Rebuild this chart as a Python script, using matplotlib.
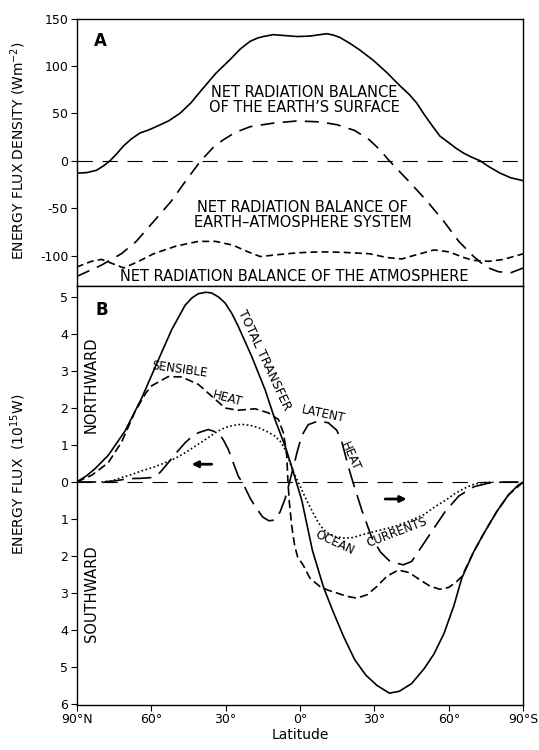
import matplotlib
matplotlib.use("Agg")
import matplotlib.pyplot as plt

plt.rcParams['font.family'] = ['DejaVu Sans']
plt.rcParams['axes.unicode_minus'] = False
plt.rcParams['lines.scale_dashes'] = False

# ---- panel A : net radiation balance (W m-2), latitude N positive ----
surf_lat = [90, 86, 82, 79, 76.6, 74, 71.2, 68, 64.5, 61, 57.8, 53, 48.4, 44, 39, 34,
            28.2, 24, 20.1, 17, 14.8, 10.8, 6, 1, -4, -8, -10.8, -13.5, -16.1, -20, -24,
            -29.5, -35, -40.3, -44, -47, -50, -53, -56.4, -60, -63, -66, -69, -72.6, -76,
            -80.6, -85, -90]
surf_val = [-13, -12.5, -10, -5, 0, 7, 15.5, 23, 29.3, 32.5, 36.2, 42, 50, 61, 76.7, 92,
            106.7, 118, 126, 129.5, 131, 133, 132, 131, 131.5, 133, 134, 132.5, 130, 124,
            117, 106, 93, 79, 70, 61, 49, 38, 26, 19, 13, 8, 4, 0, -6, -13, -18, -21]

system_lat = [90, 85, 80, 76, 72, 66, 59, 52, 46, 40, 35, 31, 26, 20, 10, 1, -8, -15,
              -22, -28, -32, -36, -44, -51, -58, -64, -70, -75, -80, -85, -90]
system_val = [-122, -116, -110, -104, -98, -85, -64, -43, -21, 0, 14, 22, 30, 36, 40, 42,
              41, 38, 32, 22, 12, 0, -22, -42, -64, -85, -101, -112, -117, -118, -113]

atmos_lat = [90, 84, 80, 75, 71, 65, 59, 50, 41, 34, 27, 21, 16, 9, 1, -8, -17, -28, -35,
             -41, -47, -54, -60, -66, -70, -76, -82, -90]
atmos_val = [-112, -106, -104, -109, -113, -106, -98, -90, -85, -85, -89, -96, -101, -99,
             -97, -96, -96.5, -98, -102, -103.5, -99, -94, -96, -102, -105, -106, -104, -98]

# ---- panel B : meridional energy flux (10^15 W), northward positive ----
total_lat = [90, 86, 82.6, 77.3, 70.5, 63.8, 57.1, 51.7, 46.3, 43.5, 41, 38, 35.6, 32.8,
             30.2, 27.5, 24.9, 19.5, 14.1, 10.1, 6.0, 4, 1.5, -0.7, -5, -9.5, -13, -17.5,
             -22, -26.5, -31, -36, -40, -45, -50, -54, -58, -62, -65.2, -69.9, -74, -79.3,
             -84, -88, -90]
total_val = [0, 0.17, 0.36, 0.72, 1.38, 2.27, 3.3, 4.12, 4.78, 4.98, 5.09, 5.13, 5.11,
             5.0, 4.84, 4.56, 4.21, 3.4, 2.5, 1.69, 0.97, 0.55, 0, -0.49, -1.85, -2.85,
             -3.45, -4.17, -4.8, -5.22, -5.5, -5.71, -5.66, -5.45, -5.05, -4.65, -4.1,
             -3.35, -2.6, -1.9, -1.4, -0.8, -0.35, -0.08, 0]

sens_lat = [90, 84, 77.3, 71.9, 66.5, 62, 59.8, 53.1, 47.7, 41, 35.6, 30.2, 24.9, 18.1,
            12.8, 8.7, 6.7, 5.4, 4.9, 4.3, 3.3, 2.2, 1.0, -1.3, -4, -8.1, -11.5, -14.8,
            -18.8, -22.9, -27, -30.9, -35, -39.6, -44, -48.4, -52.5, -56.4, -60, -63,
            -65.2, -69.9, -74, -79.3, -84, -90]
sens_val = [0, 0.18, 0.52, 1.08, 1.9, 2.42, 2.6, 2.85, 2.84, 2.64, 2.32, 2.0, 1.94, 1.98,
            1.87, 1.69, 1.33, 0.79, 0.07, -0.55, -1.21, -1.7, -2.02, -2.25, -2.6, -2.83,
            -2.93, -3.0, -3.09, -3.14, -3.05, -2.83, -2.55, -2.38, -2.45, -2.65, -2.82,
            -2.9, -2.85, -2.7, -2.56, -1.9, -1.4, -0.8, -0.35, 0]

latent_lat = [90, 79.3, 74.6, 69.2, 64, 59.8, 56.5, 53.1, 49.7, 46.3, 43.5, 41, 37, 32.9,
              30.9, 28.9, 26.9, 24.9, 22.9, 20, 17.5, 15, 12.5, 10.5, 8.1, 6, 4.2, 2.5, 1,
              -0.7, -3.3, -7.4, -11.4, -14.8, -16.8, -19.5, -21.5, -24.9, -28.9, -32.5,
              -36.3, -41.6, -45, -48, -53, -58.5, -64, -70, -76, -82, -90]
latent_val = [0, 0, 0.03, 0.09, 0.1, 0.12, 0.25, 0.52, 0.8, 1.06, 1.23, 1.33, 1.42, 1.33,
              1.14, 0.88, 0.52, 0.16, -0.05, -0.45, -0.72, -0.95, -1.05, -1.03, -0.82,
              -0.45, 0, 0.45, 0.85, 1.25, 1.55, 1.65, 1.6, 1.4, 1.1, 0.41, -0.04, -0.76,
              -1.5, -1.9, -2.15, -2.24, -2.15, -1.85, -1.35, -0.8, -0.38, -0.13, -0.03,
              0, 0]

ocean_lat = [80, 76, 73.2, 68, 63.8, 59, 54.4, 50, 46.3, 41.5, 37, 33.5, 30.2, 27, 23.5,
             20, 16.8, 13.5, 10.1, 8, 6.0, 4.2, 2.5, 0.7, -1.3, -3.3, -5.4, -7.4, -9.4,
             -11.4, -14.5, -18.1, -21.5, -24.9, -30, -35.6, -40, -45, -50, -54.4, -58.5,
             -62.5, -66, -69.2, -73, -78]
ocean_val = [0, 0.03, 0.09, 0.2, 0.3, 0.4, 0.52, 0.65, 0.79, 1.0, 1.2, 1.36, 1.47, 1.53,
             1.56, 1.53, 1.47, 1.37, 1.24, 1.1, 0.88, 0.55, 0.25, 0, -0.3, -0.58, -0.85,
             -1.1, -1.28, -1.39, -1.48, -1.52, -1.5, -1.43, -1.34, -1.25, -1.16, -1.03,
             -0.88, -0.67, -0.5, -0.31, -0.18, -0.08, -0.02, 0]

lat_ticks = [90, 60, 30, 0, -30, -60, -90]
lat_labels = ['90°N', '60°', '30°', '0°', '30°', '60°', '90°S']
a_ticks = [150, 100, 50, 0, -50, -100]
b_ticks = [5, 4, 3, 2, 1, 0, -1, -2, -3, -4, -5, -6]

fig = plt.figure(figsize=(5.39, 7.5), dpi=100)
axA = fig.add_axes([0.1423, 0.6187, 0.8286, 0.3566])
axB = fig.add_axes([0.1423, 0.06, 0.8286, 0.5587])

for ax in (axA, axB):
    ax.set_xlim(90, -90)
    ax.axhline(0, color='black', lw=0.8, dashes=(11, 7))
    ax.tick_params(direction='out', length=4, width=0.8, labelsize=9, pad=2)
    for s in ax.spines.values():
        s.set_linewidth(1.0)

# panel A
axA.plot(surf_lat, surf_val, color='black', lw=1.2)
axA.plot(system_lat, system_val, color='black', lw=1.2, dashes=(10, 6))
axA.plot(atmos_lat, atmos_val, color='black', lw=1.2, dashes=(5, 3))
axA.set_ylim(-132, 150)
axA.set_yticks(a_ticks)
axA.set_xticks([])
axA.text(80.6, 126, 'A', fontsize=12, fontweight='bold', ha='center', va='center')
axA.text(-1.6, 64, 'NET RADIATION BALANCE\nOF THE EARTH\u2019S SURFACE', fontsize=10.5,
         ha='center', va='center', linespacing=1.0)
axA.text(-1.0, -57, 'NET RADIATION BALANCE OF\nEARTH\u2013ATMOSPHERE SYSTEM', fontsize=10.5,
         ha='center', va='center', linespacing=1.0)
axA.text(2.4, -122.5, 'NET RADIATION BALANCE OF THE ATMOSPHERE', fontsize=10.5,
         ha='center', va='center')

# panel B
axB.plot(total_lat, total_val, color='black', lw=1.2)
axB.plot(sens_lat, sens_val, color='black', lw=1.2, dashes=(6, 3))
axB.plot(latent_lat, latent_val, color='black', lw=1.2, dashes=(14, 6))
axB.plot(ocean_lat, ocean_val, color='black', lw=1.2, dashes=(1.2, 1.8))
axB.set_ylim(-6.03, 5.3)
axB.set_yticks(b_ticks)
axB.set_yticklabels([str(abs(v)) for v in b_ticks])
axB.set_xticks(lat_ticks)
axB.set_xticklabels(lat_labels)
axB.set_xlabel('Latitude', fontsize=10, labelpad=1)

fig.text(0.033, 0.799, 'ENERGY FLUX DENSITY (Wm$^{-2}$)', fontsize=10, rotation=90,
         ha='center', va='center')
fig.text(0.033, 0.368, 'ENERGY FLUX  (10$^{15}$W)', fontsize=10, rotation=90,
         ha='center', va='center')

axB.text(80, 4.66, 'B', fontsize=12, fontweight='bold', ha='center', va='center')
axB.text(84, 2.64, 'NORTHWARD', fontsize=10.5, rotation=90, ha='center', va='center')
axB.text(84, -3.02, 'SOUTHWARD', fontsize=10.5, rotation=90, ha='center', va='center')
axB.text(14.5, 3.3, 'TOTAL TRANSFER', fontsize=9, rotation=-65, ha='center',
         va='center', rotation_mode='anchor')
axB.text(48.4, 3.05, 'SENSIBLE', fontsize=8.5, rotation=-8, ha='center', va='center',
         rotation_mode='anchor')
axB.text(29.1, 2.25, 'HEAT', fontsize=8.5, rotation=-15, ha='center', va='center',
         rotation_mode='anchor')
axB.text(-9.4, 1.84, 'LATENT', fontsize=8.5, rotation=-12, ha='center', va='center',
         rotation_mode='anchor')
axB.text(-20.2, 0.68, 'HEAT', fontsize=8.5, rotation=-66, ha='center', va='center',
         rotation_mode='anchor')
axB.text(-14.1, -1.65, 'OCEAN', fontsize=8.5, rotation=-25, ha='center', va='center',
         rotation_mode='anchor')
axB.text(-39, -1.36, 'CURRENTS', fontsize=8.5, rotation=21, ha='center', va='center',
         rotation_mode='anchor')

arrow = dict(arrowstyle='-|>', lw=2, color='black', mutation_scale=9, shrinkA=0, shrinkB=0)
axB.annotate('', xy=(43.7, 0.48), xytext=(35.6, 0.48), arrowprops=arrow)
axB.annotate('', xy=(-43, -0.46), xytext=(-34.3, -0.46), arrowprops=arrow)

fig.savefig('out.png', dpi=100)
